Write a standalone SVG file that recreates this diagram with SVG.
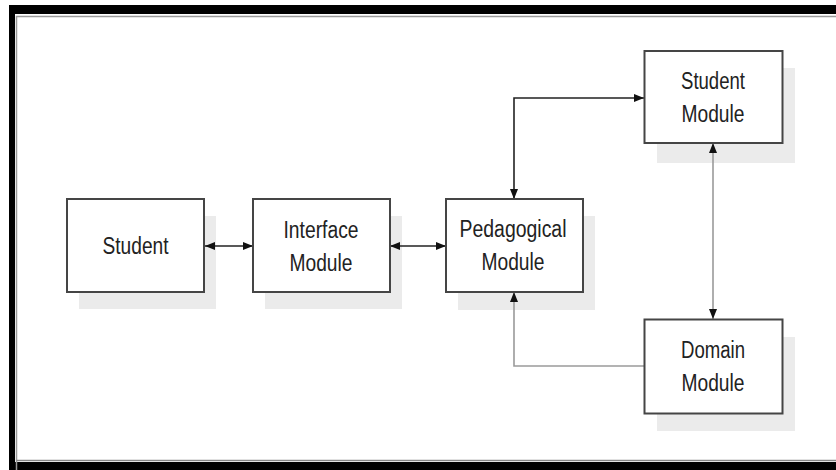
<svg xmlns="http://www.w3.org/2000/svg" width="836" height="470" viewBox="0 0 836 470">
<defs>
<style>
.box{fill:#fff;stroke:#454545;stroke-width:2}
.shadow{fill:#ebebeb;stroke:none}
.t{font-family:"Liberation Sans",Arial,sans-serif;font-size:23px;fill:#222;text-anchor:middle}
.c{fill:none;stroke:#222;stroke-width:1.6}
.g{fill:none;stroke:#9a9a9a;stroke-width:1.6}
</style>
<marker id="ah" viewBox="0 0 10 8" refX="10" refY="4" markerWidth="10" markerHeight="8" markerUnits="userSpaceOnUse" orient="auto-start-reverse">
<path d="M0,0 L10,4 L0,8 z" fill="#111"/>
</marker>
</defs>
<rect width="836" height="470" fill="#fff"/>
<g id="frame">
<rect x="9" y="5" width="827" height="9" fill="#000"/>
<rect x="9" y="5" width="6" height="465" fill="#000"/>
<rect x="9" y="462" width="827" height="8" fill="#000"/>
<path d="M16.5,470 V16.5 H836" fill="none" stroke="#999" stroke-width="1.5"/>
<path d="M16.5,460.5 H836" fill="none" stroke="#888" stroke-width="1.5"/>
</g>
<g id="shadows">
<rect class="shadow" x="79" y="216" width="137" height="93"/>
<rect class="shadow" x="265" y="216" width="137" height="93"/>
<rect class="shadow" x="458" y="216" width="137" height="94"/>
<rect class="shadow" x="657" y="68" width="138" height="95"/>
<rect class="shadow" x="657" y="337" width="138" height="94"/>
</g>
<g id="connectors">
<path class="c" d="M205,246 H253" marker-start="url(#ah)" marker-end="url(#ah)"/>
<path class="c" d="M390,246 H446" marker-start="url(#ah)" marker-end="url(#ah)"/>
<path class="c" d="M514,199 V98 H644" marker-start="url(#ah)" marker-end="url(#ah)"/>
<path class="g" d="M713,143 V319" marker-start="url(#ah)" marker-end="url(#ah)"/>
<path class="g" d="M644,366 H514 V292" marker-end="url(#ah)"/>
</g>
<g id="student">
<rect class="box" x="67" y="199" width="137" height="93"/>
<text class="t" x="135.5" y="254" textLength="66" lengthAdjust="spacingAndGlyphs">Student</text>
</g>
<g id="interface-module">
<rect class="box" x="253" y="199" width="137" height="93"/>
<text class="t" x="321" y="237.5" textLength="75" lengthAdjust="spacingAndGlyphs">Interface</text>
<text class="t" x="321" y="271" textLength="63" lengthAdjust="spacingAndGlyphs">Module</text>
</g>
<g id="pedagogical-module">
<rect class="box" x="446" y="199" width="137" height="93"/>
<text class="t" x="513" y="236.5" textLength="107" lengthAdjust="spacingAndGlyphs">Pedagogical</text>
<text class="t" x="513" y="270" textLength="63" lengthAdjust="spacingAndGlyphs">Module</text>
</g>
<g id="student-module">
<rect class="box" x="644.5" y="51" width="138" height="92"/>
<text class="t" x="713" y="89" textLength="64" lengthAdjust="spacingAndGlyphs">Student</text>
<text class="t" x="713" y="122" textLength="63" lengthAdjust="spacingAndGlyphs">Module</text>
</g>
<g id="domain-module">
<rect class="box" x="644.5" y="319.5" width="138" height="94"/>
<text class="t" x="713" y="357.5" textLength="64" lengthAdjust="spacingAndGlyphs">Domain</text>
<text class="t" x="713" y="390.5" textLength="63" lengthAdjust="spacingAndGlyphs">Module</text>
</g>
</svg>
